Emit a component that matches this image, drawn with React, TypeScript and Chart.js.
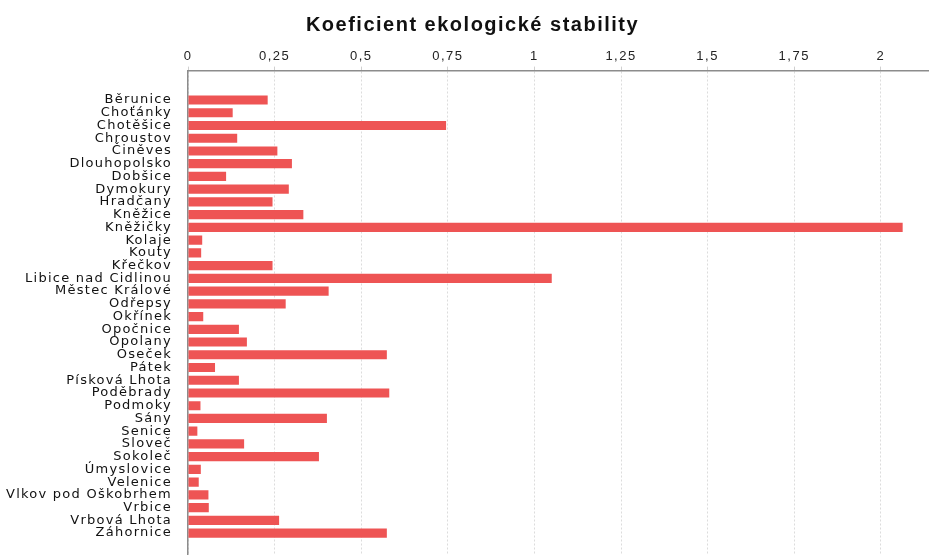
import React, { useEffect, useRef } from "react";
import { Chart, registerables } from "chart.js";

Chart.register(...registerables);

const categories: string[] = [
  "Běrunice", "Choťánky", "Chotěšice", "Chroustov", "Činěves", "Dlouhopolsko",
  "Dobšice", "Dymokury", "Hradčany", "Kněžice", "Kněžičky", "Kolaje", "Kouty",
  "Křečkov", "Libice nad Cidlinou", "Městec Králové", "Odřepsy", "Okřínek",
  "Opočnice", "Opolany", "Oseček", "Pátek", "Písková Lhota", "Poděbrady",
  "Podmoky", "Sány", "Senice", "Sloveč", "Sokoleč", "Úmyslovice", "Velenice",
  "Vlkov pod Oškobrhem", "Vrbice", "Vrbová Lhota", "Záhornice",
];

const values: number[] = [
  0.23, 0.129, 0.745, 0.142, 0.258, 0.3, 0.11, 0.291, 0.244, 0.333, 2.063, 0.041,
  0.038, 0.244, 1.05, 0.406, 0.282, 0.044, 0.147, 0.17, 0.574, 0.078, 0.147, 0.581,
  0.036, 0.401, 0.027, 0.162, 0.378, 0.037, 0.031, 0.059, 0.06, 0.263, 0.574,
];

const xTicks: number[] = [0, 0.25, 0.5, 0.75, 1, 1.25, 1.5, 1.75, 2];

const title = "Koeficient ekologické stability";

function withSpacing(obj: any, key: string, spacing: string, dx = 0) {
  if (!obj || obj["__sp_" + key]) return;
  const orig = obj[key];
  obj[key] = function (...args: any[]) {
    const ctx = this.ctx;
    ctx.save();
    ctx.letterSpacing = spacing;
    if (dx) ctx.translate(dx, 0);
    const r = orig.apply(this, args);
    ctx.restore();
    return r;
  };
  obj["__sp_" + key] = true;
}

const spacingPlugin = {
  id: "letterSpacing",
  afterLayout(chart: any) {
    withSpacing(chart.scales.y, "drawLabels", "1.25px");
    withSpacing(chart.scales.x, "drawLabels", "1.5px");
    withSpacing(chart.titleBlock, "draw", "1.5px", 8);
  },
};

export default function App() {
  const ref = useRef<HTMLCanvasElement | null>(null);

  useEffect(() => {
    document.body.style.margin = "0";
    if (!ref.current) return;
    const chart = new Chart(ref.current, {
      type: "bar",
      data: {
        datasets: [
          {
            data: values.map((v, i) => ({ x: v, y: i })),
            backgroundColor: "rgb(238, 84, 84)",
            borderWidth: 0,
            barPercentage: 0.72,
            categoryPercentage: 1,
          },
        ],
      },
      plugins: [spacingPlugin],
      options: {
        indexAxis: "y",
        animation: false,
        responsive: false,
        maintainAspectRatio: false,
        layout: { padding: { left: 0, right: 0, top: 13, bottom: 0 } },
        plugins: {
          legend: { display: false },
          tooltip: { enabled: false },
          title: {
            display: true,
            text: title,
            color: "#111",
            font: { family: "Liberation Sans", size: 20, weight: "bold" },
            padding: { top: 0, bottom: 9 },
          },
        },
        scales: {
          x: {
            type: "linear",
            position: "top",
            min: 0,
            max: 2.139,
            afterBuildTicks: (scale: any) => {
              scale.ticks = xTicks.map((v) => ({ value: v }));
            },
            ticks: {
              color: "#222",
              font: { family: "Liberation Sans", size: 13 },
              padding: 2.5,
              callback: (v: any) => String(v).replace(".", ","),
            },
            grid: {
              color: "#dcdcdc",
              tickLength: 4,
              tickColor: "#cfcfcf",
            },
            border: { display: true, color: "#8c8c8c", width: 1.5, dash: [2, 2] },
          },
          y: {
            type: "linear",
            reverse: true,
            offset: false,
            min: -2.31,
            max: 35.72,
            afterBuildTicks: (scale: any) => {
              scale.ticks = categories.map((_, i) => ({ value: i }));
            },
            afterFit: (scale: any) => {
              scale.width = 188;
              scale.paddingTop = 0;
              scale.paddingBottom = 0;
            },
            ticks: {
              autoSkip: false,
              color: "#111",
              font: { family: "DejaVu Sans", size: 13 },
              padding: 16,
              callback: (v: any) => categories[v] ?? "",
            },
            grid: { display: false, drawTicks: false },
            border: { display: true, color: "#8c8c8c", width: 1.5 },
          },
        },
      },
    });
    return () => chart.destroy();
  }, []);

  return (
    <div style={{ width: 929, height: 555 }}>
      <canvas ref={ref} width={929} height={555} style={{ width: 929, height: 555 }} />
    </div>
  );
}
